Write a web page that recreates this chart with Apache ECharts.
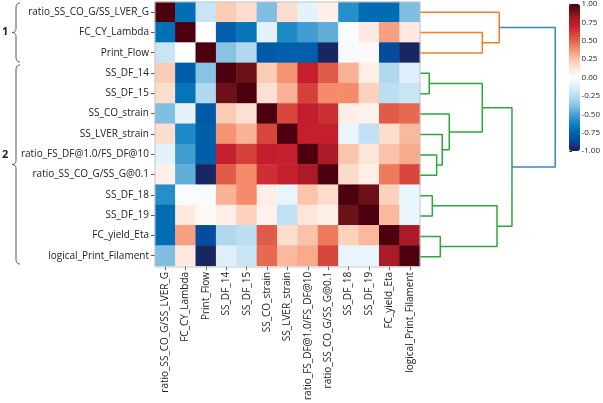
<!DOCTYPE html>
<html><head><meta charset="utf-8">
<script src="https://cdn.jsdelivr.net/npm/echarts@6/dist/echarts.min.js"></script>
<style>html,body{margin:0;padding:0;background:#fff}#c{width:603px;height:403px}</style>
</head><body><div id="c"></div>
<script>
// ---- data ----
const labels = [
  'ratio_SS_CO_G/SS_LVER_G','FC_CY_Lambda','Print_Flow','SS_DF_14','SS_DF_15',
  'SS_CO_strain','SS_LVER_strain','ratio_FS_DF@1.0/FS_DF@10','ratio_SS_CO_G/SS_G@0.1',
  'SS_DF_18','SS_DF_19','FC_yield_Eta','logical_Print_Filament'
];
const corr = [
  [ 1.00,-0.70,-0.20, 0.22, 0.15,-0.40, 0.15,-0.10, 0.07,-0.58,-0.72,-0.72,-0.40],
  [-0.70, 1.00, 0.00,-0.78,-0.68,-0.10,-0.60,-0.52,-0.46,-0.02, 0.10, 0.35, 0.10],
  [-0.20, 0.00, 1.00,-0.38,-0.27,-0.80,-0.78,-0.78,-0.97,-0.03, 0.03,-0.85,-0.97],
  [ 0.22,-0.78,-0.38, 1.00, 0.90, 0.22, 0.38, 0.70, 0.52, 0.30, 0.08,-0.28,-0.12],
  [ 0.15,-0.68,-0.27, 0.90, 1.00, 0.14, 0.30, 0.60, 0.40, 0.40, 0.20,-0.24,-0.20],
  [-0.40,-0.10,-0.80, 0.22, 0.14, 1.00, 0.58, 0.72, 0.65, 0.08, 0.06, 0.52, 0.48],
  [ 0.15,-0.60,-0.78, 0.38, 0.30, 0.58, 1.00, 0.70, 0.70,-0.08,-0.22, 0.15, 0.28],
  [-0.10,-0.52,-0.78, 0.70, 0.60, 0.72, 0.70, 1.00, 0.80, 0.24, 0.12, 0.25, 0.32],
  [ 0.07,-0.46,-0.97, 0.52, 0.40, 0.65, 0.70, 0.80, 1.00, 0.16, 0.07, 0.44, 0.58],
  [-0.58,-0.02,-0.03, 0.30, 0.40, 0.08,-0.08, 0.24, 0.16, 1.00, 0.90, 0.20,-0.08],
  [-0.72, 0.10, 0.03, 0.08, 0.20, 0.06,-0.22, 0.12, 0.07, 0.90, 1.00, 0.28,-0.08],
  [-0.72, 0.35,-0.85,-0.28,-0.24, 0.52, 0.15, 0.25, 0.44, 0.20, 0.28, 1.00, 0.80],
  [-0.40, 0.10,-0.97,-0.12,-0.20, 0.48, 0.28, 0.32, 0.58,-0.08,-0.08, 0.80, 1.00]
];
// linkage: [childA, childB, distance]; new node ids start at 13
const linkage = [
  [3, 4, 0.066], [9, 10, 0.088], [7, 8, 0.119], [11, 12, 0.145],
  [6, 15, 0.159], [5, 17, 0.209], [1, 2, 0.445], [13, 18, 0.445],
  [14, 16, 0.550], [0, 19, 0.566], [20, 21, 0.657], [22, 23, 0.966]
];
const linkCluster = ['g','g','g','g','g','g','o','g','g','o','g','b'];
const clusterNames = ['1', '2'];
const colorbarTicks = { min: -1, max: 1, step: 0.25 };

// ---- build ----
const clusterColor = { o: '#f57f1e', g: '#2aa83a', b: '#3a86c6' };
const n = labels.length;
const heatData = [];
for (let i = 0; i < n; i++) for (let j = 0; j < n; j++) heatData.push([j, i, corr[i][j]]);

const nodePos = [], nodeH = [];
for (let i = 0; i < n; i++) { nodePos.push(i + 0.5); nodeH.push(0); }
const dendroSeries = [];
linkage.forEach((l, k) => {
  const [a, b, h] = l;
  dendroSeries.push({
    type: 'line', xAxisIndex: 2, yAxisIndex: 2, symbol: 'none', silent: true,
    lineStyle: { color: clusterColor[linkCluster[k]], width: 1.5 },
    data: [[nodeH[a], nodePos[a]], [h, nodePos[a]], [h, nodePos[b]], [nodeH[b], nodePos[b]]],
    animation: false
  });
  nodePos.push((nodePos[a] + nodePos[b]) / 2); nodeH.push(h);
});

const cmap = ['#1d1d4e','#0b3f8f','#005aa8','#0070b4','#1d89c6','#4aa2d2','#80bfe1','#a9d3ec','#c8e5f6','#e3f2fb',
  '#ffffff','#feeae0','#fcd2bc','#f9b295','#f58b6a','#e3614c','#d5413a','#c51f2d','#ab1a28','#6c1117','#4c000f'];

function quad(p0, c, p1, steps) {
  const pts = [];
  for (let s = 0; s <= steps; s++) {
    const t = s / steps, u = 1 - t;
    pts.push([u*u*p0[0] + 2*u*t*c[0] + t*t*p1[0], u*u*p0[1] + 2*u*t*c[1] + t*t*p1[1]]);
  }
  return pts;
}
function brace(x, top, bot) {
  const mid = (top + bot) / 2, xv = x + 4, xe = x + 8;
  return [].concat(
    quad([xe, top], [xv, top], [xv, top + 5], 8),
    quad([xv, mid - 4], [xv, mid], [x, mid], 8),
    quad([x, mid], [xv, mid], [xv, mid + 4], 8),
    quad([xv, bot - 5], [xv, bot], [xe, bot], 8)
  );
}

const font = 'Open Sans';
const chart = echarts.init(document.getElementById('c'));
chart.setOption({
  animation: false,
  textStyle: { fontFamily: font },
  grid: [
    { left: 155, top: 2, width: 265, height: 265 },
    { left: 569, top: 4, width: 11, height: 147 },
    { left: 420, top: 2, width: 140, height: 265 }
  ],
  xAxis: [
    { type: 'category', data: labels, gridIndex: 0, position: 'bottom',
      axisLine: { show: false }, splitLine: { show: false },
      axisTick: { show: true, length: 4, alignWithLabel: true, lineStyle: { color: '#555' } },
      axisLabel: { rotate: 90, fontSize: 10, color: '#222', margin: 6, interval: 0, fontFamily: font } },
    { type: 'value', gridIndex: 1, show: false, min: 0, max: 1 },
    { type: 'value', gridIndex: 2, show: false, min: 0, max: 1 }
  ],
  yAxis: [
    { type: 'category', data: labels, gridIndex: 0, inverse: true,
      axisLine: { show: false }, splitLine: { show: false },
      axisTick: { show: true, length: 4, alignWithLabel: true, lineStyle: { color: '#555' } },
      axisLabel: { fontSize: 10, color: '#222', margin: 6, interval: 0, fontFamily: font } },
    { type: 'value', gridIndex: 1, position: 'right', min: colorbarTicks.min, max: colorbarTicks.max, interval: colorbarTicks.step,
      axisLine: { show: false }, splitLine: { show: false },
      axisTick: { show: true, length: 3, lineStyle: { color: '#444' } },
      axisLabel: { fontSize: 8, color: '#222', margin: 3, formatter: v => v.toFixed(2) } },
    { type: 'value', gridIndex: 2, show: false, min: 0, max: n, inverse: true }
  ],
  visualMap: {
    type: 'continuous', min: -1, max: 1, seriesIndex: 0, calculable: false,
    orient: 'vertical', left: 569, top: 4, itemWidth: 11, itemHeight: 147, padding: 0,
    showLabel: false, inRange: { color: cmap }
  },
  series: [
    { type: 'heatmap', xAxisIndex: 0, yAxisIndex: 0, data: heatData,
      itemStyle: { borderWidth: 0 }, emphasis: { disabled: true } },
    ...dendroSeries
  ],
  graphic: [
    { type: 'rect', shape: { x: 155, y: 2, width: 265, height: 265 }, z: 100, silent: true,
      style: { fill: null, stroke: '#c4c4c4', lineWidth: 1 } },
    { type: 'polyline', shape: { points: brace(12, 3, 62) }, style: { fill: null, stroke: '#555', lineWidth: 1 } },
    { type: 'polyline', shape: { points: brace(12, 65, 264) }, style: { fill: null, stroke: '#555', lineWidth: 1 } },
    { type: 'text', left: 2, top: 26, style: { text: clusterNames[0], font: `bold 11px "${font}"`, fill: '#222' } },
    { type: 'text', left: 2, top: 149, style: { text: clusterNames[1], font: `bold 11px "${font}"`, fill: '#222' } }
  ]
});
</script></body></html>
